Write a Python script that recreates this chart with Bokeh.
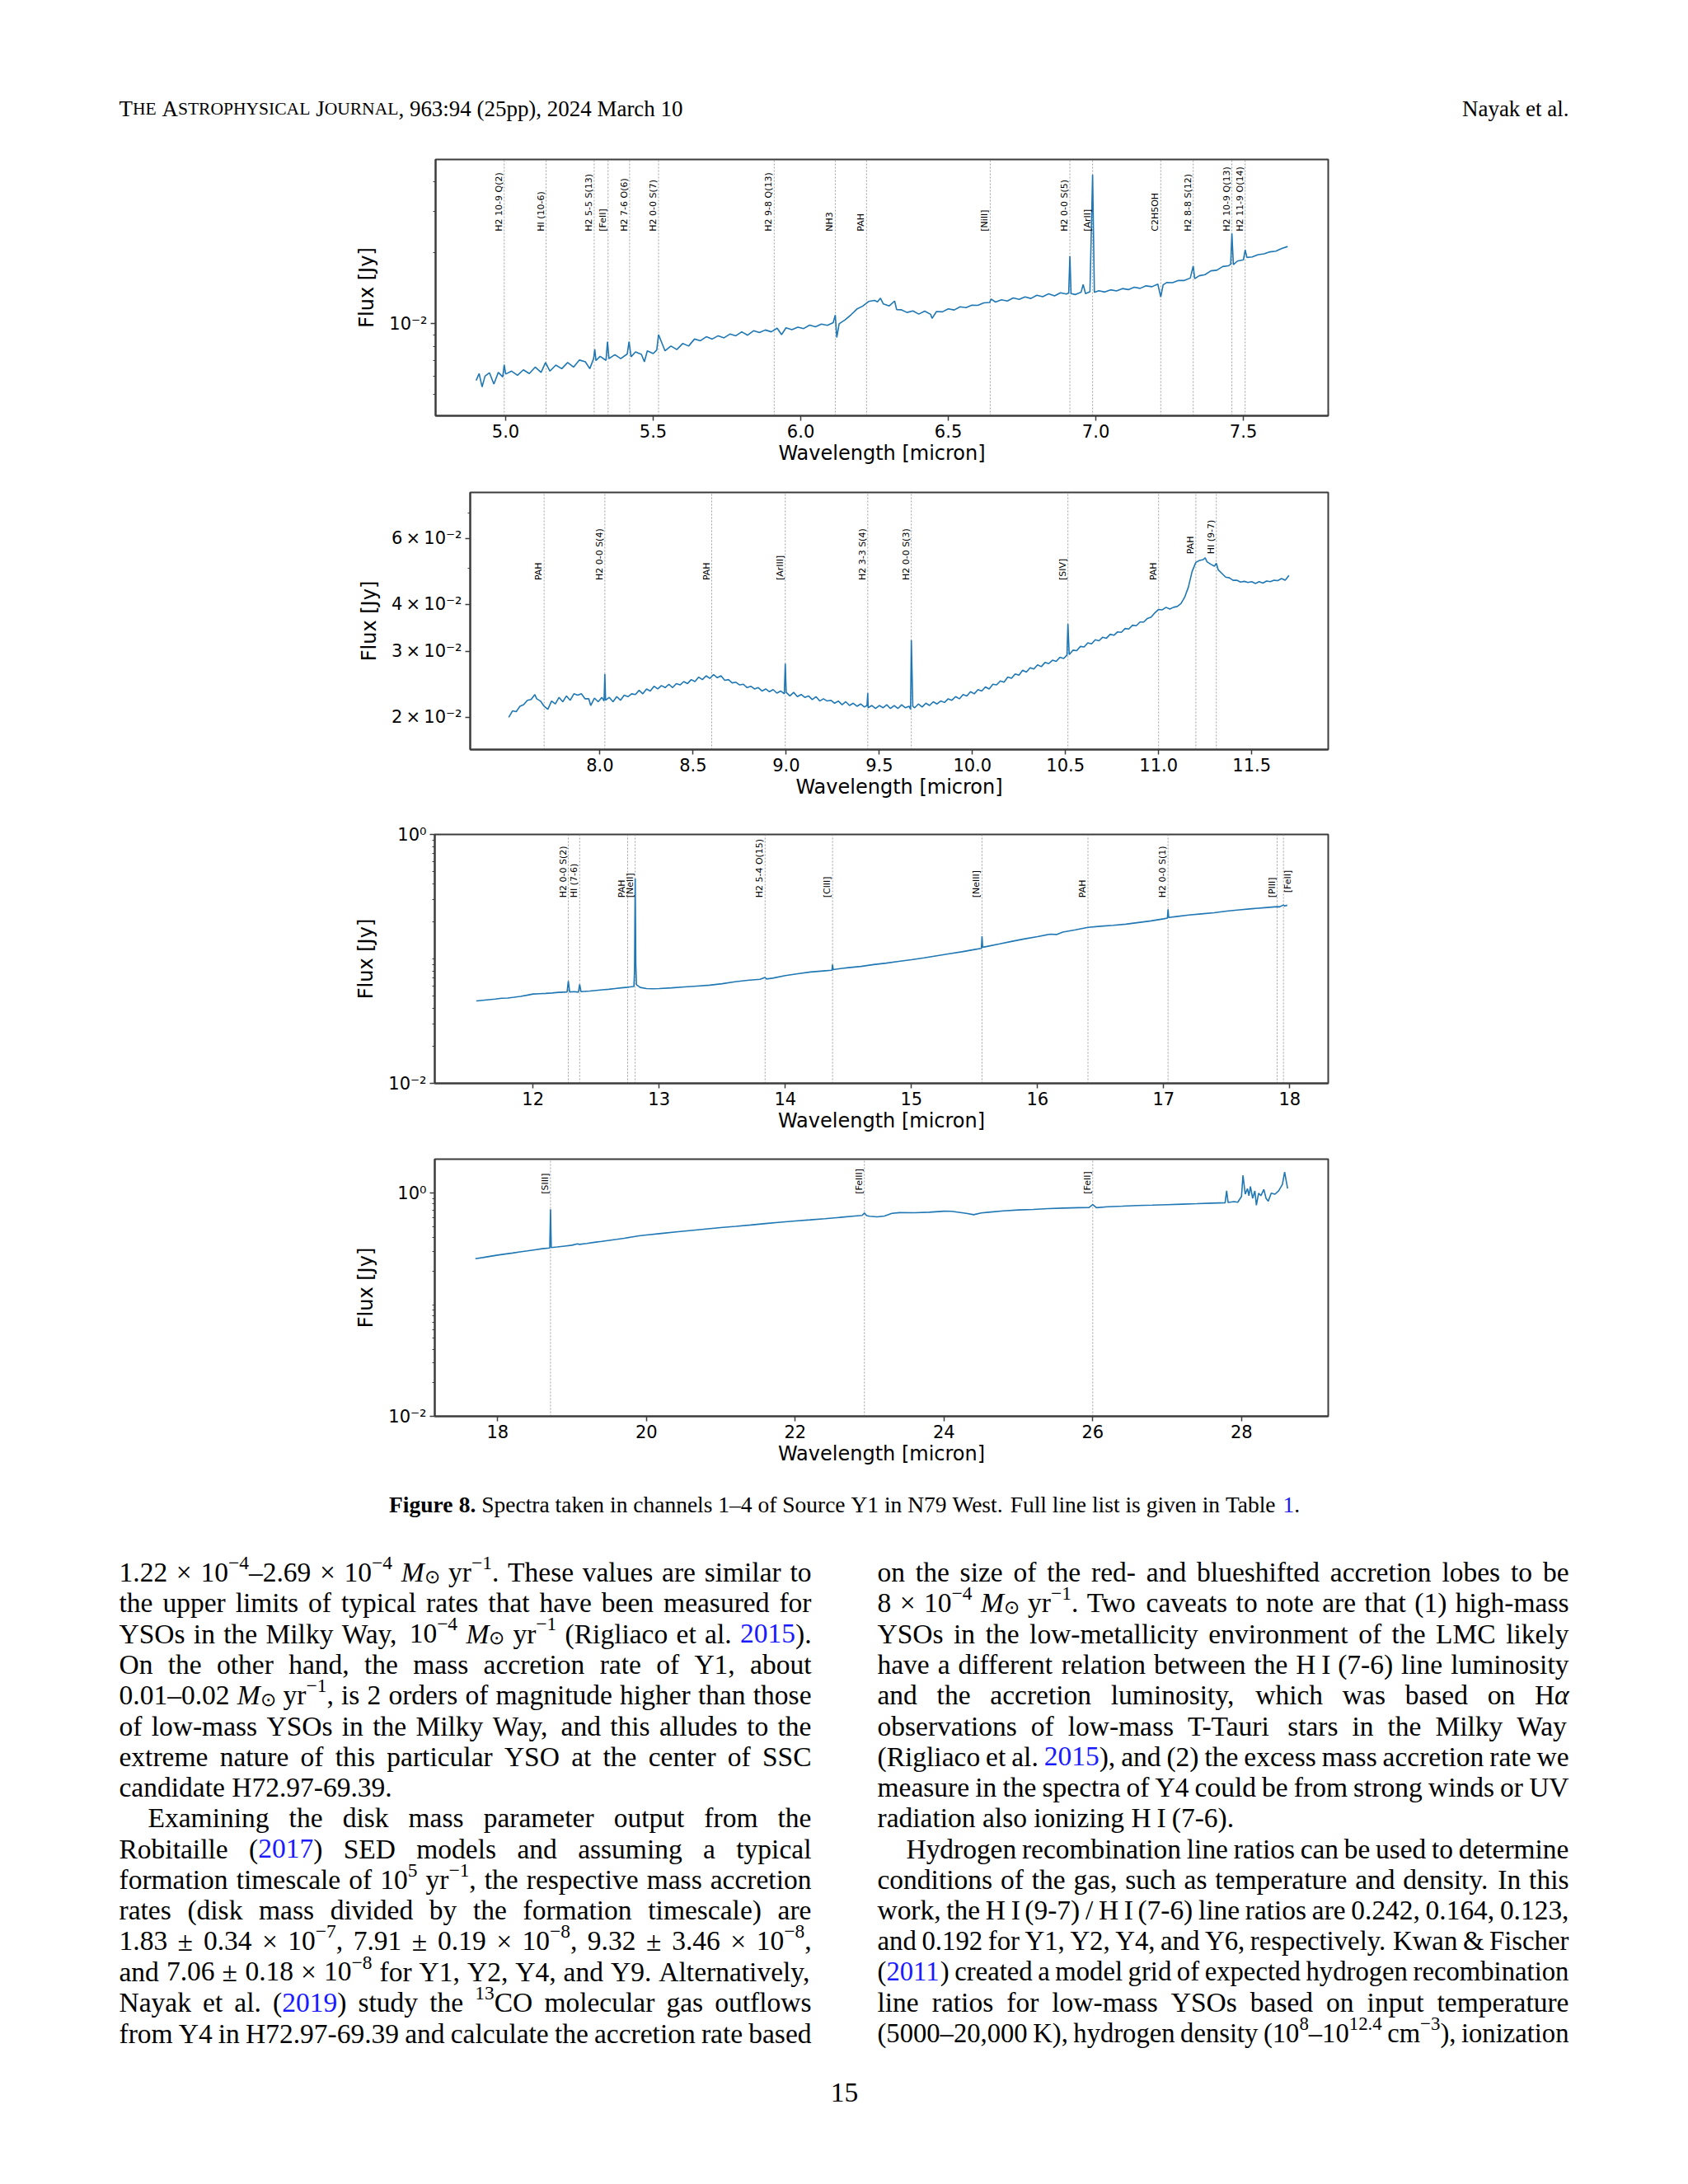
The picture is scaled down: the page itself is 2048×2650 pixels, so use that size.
import math
from bokeh.plotting import figure
from bokeh.models import Range1d, FixedTicker, ColumnDataSource
from bokeh.layouts import column
from bokeh.embed import file_html
from bokeh.resources import INLINE
from bokeh.core.properties import value

# ------------------------------------------------------------------
# Channel 1 spectrum (wavelength in micron, flux in Jy)
# ------------------------------------------------------------------
ch1_wl = [
    4.900, 4.910, 4.920, 4.930, 4.945, 4.960, 4.975, 4.990, 4.995, 5.000,
    5.020, 5.040, 5.060, 5.080, 5.100, 5.120, 5.135, 5.150, 5.170, 5.190,
    5.210, 5.230, 5.250, 5.270, 5.285, 5.298, 5.302, 5.306, 5.320, 5.340,
    5.345, 5.350, 5.370, 5.390, 5.412, 5.418, 5.425, 5.440, 5.460, 5.470,
    5.480, 5.500, 5.512, 5.518, 5.540, 5.560, 5.580, 5.600, 5.620, 5.640,
    5.660, 5.680, 5.700, 5.720, 5.740, 5.760, 5.780, 5.800, 5.820, 5.840,
    5.860, 5.880, 5.900, 5.920, 5.935, 5.950, 5.970, 5.990, 6.010, 6.030,
    6.050, 6.070, 6.090, 6.110, 6.117, 6.122, 6.130, 6.150, 6.170, 6.190,
    6.210, 6.230, 6.250, 6.260, 6.270, 6.280, 6.300, 6.318, 6.325, 6.340,
    6.360, 6.380, 6.400, 6.420, 6.440, 6.445, 6.460, 6.480, 6.500, 6.520,
    6.540, 6.560, 6.580, 6.600, 6.620, 6.640, 6.645, 6.660, 6.680, 6.700,
    6.720, 6.740, 6.760, 6.780, 6.800, 6.820, 6.840, 6.860, 6.880, 6.900,
    6.908, 6.912, 6.916, 6.930, 6.950, 6.957, 6.965, 6.980, 6.989, 6.995,
    7.010, 7.030, 7.050, 7.070, 7.090, 7.110, 7.130, 7.150, 7.170, 7.190,
    7.210, 7.220, 7.228, 7.240, 7.260, 7.280, 7.300, 7.320, 7.330, 7.335,
    7.350, 7.370, 7.390, 7.410, 7.430, 7.450, 7.457, 7.461, 7.466, 7.480,
    7.500, 7.506, 7.512, 7.530, 7.550, 7.570, 7.590, 7.610, 7.630, 7.650]
ch1_flux = [
    0.00575, 0.00615, 0.00540, 0.00600, 0.00620, 0.00555, 0.00622, 0.00595, 0.00670, 0.00612,
    0.00630, 0.00605, 0.00638, 0.00615, 0.00655, 0.00622, 0.00685, 0.00630, 0.00668, 0.00645,
    0.00685, 0.00655, 0.00702, 0.00690, 0.00645, 0.00712, 0.00780, 0.00698, 0.00728, 0.00700,
    0.00840, 0.00712, 0.00740, 0.00712, 0.00745, 0.00840, 0.00725, 0.00760, 0.00742, 0.00690,
    0.00768, 0.00748, 0.00775, 0.00900, 0.00768, 0.00805, 0.00778, 0.00825, 0.00805, 0.00862,
    0.00848, 0.00882, 0.00862, 0.00890, 0.00872, 0.00905, 0.00890, 0.00925, 0.00895, 0.00935,
    0.00918, 0.00942, 0.00925, 0.00958, 0.00900, 0.00962, 0.00945, 0.00968, 0.00955, 0.00988,
    0.00972, 0.00998, 0.00985, 0.01012, 0.01090, 0.00875, 0.01000, 0.01040, 0.01092, 0.01155,
    0.01190, 0.01245, 0.01258, 0.01240, 0.01285, 0.01215, 0.01192, 0.01250, 0.01150, 0.01148,
    0.01118, 0.01135, 0.01100, 0.01132, 0.01098, 0.01055, 0.01128, 0.01125, 0.01158, 0.01145,
    0.01182, 0.01172, 0.01200, 0.01198, 0.01228, 0.01232, 0.01275, 0.01238, 0.01265, 0.01250,
    0.01288, 0.01270, 0.01302, 0.01282, 0.01322, 0.01305, 0.01342, 0.01315, 0.01355, 0.01338,
    0.01352, 0.01940, 0.01345, 0.01332, 0.01362, 0.01470, 0.01345, 0.01368, 0.04300, 0.01360,
    0.01382, 0.01365, 0.01395, 0.01380, 0.01412, 0.01398, 0.01430, 0.01415, 0.01450, 0.01438,
    0.01475, 0.01300, 0.01465, 0.01498, 0.01495, 0.01530, 0.01528, 0.01565, 0.01760, 0.01555,
    0.01600, 0.01618, 0.01680, 0.01690, 0.01752, 0.01765, 0.01790, 0.02420, 0.01785, 0.01848,
    0.01870, 0.02060, 0.01915, 0.01925, 0.01968, 0.01982, 0.02022, 0.02035, 0.02090, 0.02130]
ch1_line_wl = [4.995, 5.137, 5.300, 5.347, 5.420, 5.518, 5.910, 6.117, 6.223, 6.642,
               6.912, 6.989, 7.220, 7.330, 7.461, 7.506]
ch1_line_labels = ["H2 10-9 Q(2)", "HI (10-6)", "H2 5-5 S(13)", "[FeII]", "H2 7-6 O(6)",
                   "H2 0-0 S(7)", "H2 9-8 Q(13)", "NH3", "PAH", "[NiII]", "H2 0-0 S(5)",
                   "[ArII]", "C2H5OH", "H2 8-8 S(12)", "H2 10-9 Q(13)", "H2 11-9 O(14)"]
ch1_label_wl = ch1_line_wl
ch1_label_flux = [0.0247] * len(ch1_line_wl)
ch1_xticks = [5.0, 5.5, 6.0, 6.5, 7.0, 7.5]
ch1_xtick_labels = ["5.0", "5.5", "6.0", "6.5", "7.0", "7.5"]
ch1_yticks = [0.01]
ch1_ytick_labels = ["10\u207b\u00b2"]
ch1_yminor = [0.005, 0.006, 0.007, 0.008, 0.009, 0.02, 0.03, 0.04]

# ------------------------------------------------------------------
# Channel 2 spectrum
# ------------------------------------------------------------------
ch2_wl = [
    7.51, 7.53, 7.55, 7.57, 7.59, 7.61, 7.63, 7.65, 7.66, 7.68,
    7.70, 7.72, 7.74, 7.76, 7.78, 7.80, 7.82, 7.84, 7.86, 7.88,
    7.90, 7.92, 7.94, 7.95, 7.97, 7.99, 8.01, 8.022, 8.026, 8.03,
    8.05, 8.07, 8.09, 8.11, 8.13, 8.15, 8.17, 8.19, 8.21, 8.23,
    8.25, 8.27, 8.29, 8.31, 8.33, 8.35, 8.37, 8.39, 8.41, 8.43,
    8.45, 8.47, 8.49, 8.51, 8.53, 8.55, 8.57, 8.59, 8.61, 8.63,
    8.65, 8.67, 8.69, 8.71, 8.73, 8.75, 8.77, 8.79, 8.81, 8.83,
    8.85, 8.87, 8.89, 8.91, 8.93, 8.95, 8.97, 8.99, 8.995, 9.00,
    9.02, 9.04, 9.06, 9.08, 9.10, 9.12, 9.14, 9.16, 9.18, 9.20,
    9.22, 9.24, 9.26, 9.28, 9.30, 9.32, 9.34, 9.36, 9.38, 9.40,
    9.42, 9.434, 9.438, 9.44, 9.46, 9.48, 9.50, 9.52, 9.54, 9.56,
    9.58, 9.60, 9.62, 9.64, 9.66, 9.668, 9.672, 9.68, 9.69, 9.71,
    9.73, 9.75, 9.77, 9.79, 9.81, 9.83, 9.85, 9.87, 9.89, 9.91,
    9.93, 9.95, 9.97, 9.99, 10.01, 10.03, 10.05, 10.07, 10.09, 10.11,
    10.13, 10.15, 10.17, 10.19, 10.21, 10.23, 10.25, 10.27, 10.29, 10.31,
    10.33, 10.35, 10.37, 10.39, 10.41, 10.43, 10.45, 10.47, 10.49, 10.508,
    10.513, 10.52, 10.54, 10.56, 10.58, 10.60, 10.62, 10.64, 10.66, 10.68,
    10.70, 10.72, 10.74, 10.76, 10.78, 10.80, 10.82, 10.84, 10.86, 10.88,
    10.90, 10.92, 10.94, 10.96, 10.98, 11.00, 11.02, 11.04, 11.06, 11.08,
    11.10, 11.12, 11.14, 11.16, 11.18, 11.20, 11.22, 11.24, 11.25, 11.26,
    11.28, 11.30, 11.31, 11.32, 11.34, 11.36, 11.38, 11.40, 11.42, 11.44,
    11.46, 11.48, 11.50, 11.52, 11.54, 11.56, 11.58, 11.60, 11.62, 11.64,
    11.66, 11.68, 11.70]
ch2_flux = [
    0.0200, 0.0208, 0.0207, 0.0214, 0.0216, 0.0222, 0.0223, 0.0230, 0.0224, 0.0221,
    0.0214, 0.0210, 0.0221, 0.0217, 0.0226, 0.0220, 0.0228, 0.0222, 0.0231, 0.0229,
    0.0231, 0.0224, 0.0224, 0.0215, 0.0225, 0.0220, 0.0226, 0.0221, 0.0261, 0.0222,
    0.0226, 0.0220, 0.0227, 0.0222, 0.0229, 0.0227, 0.0231, 0.0230, 0.0236, 0.0231,
    0.0238, 0.0235, 0.0242, 0.0238, 0.0243, 0.0240, 0.0245, 0.0240, 0.0246, 0.0244,
    0.0249, 0.0246, 0.0252, 0.0249, 0.0256, 0.0252, 0.0258, 0.0254, 0.0260, 0.0255,
    0.0258, 0.0251, 0.0252, 0.0247, 0.0248, 0.0244, 0.0245, 0.0240, 0.0242, 0.0238,
    0.0240, 0.0235, 0.0238, 0.0234, 0.0237, 0.0232, 0.0235, 0.0231, 0.0278, 0.0233,
    0.0228, 0.0233, 0.0227, 0.0230, 0.0226, 0.0228, 0.0223, 0.0227, 0.0221, 0.0224,
    0.0221, 0.0222, 0.0218, 0.0221, 0.0216, 0.0220, 0.0215, 0.0218, 0.0214, 0.0217,
    0.0213, 0.0215, 0.0232, 0.0212, 0.0215, 0.0211, 0.0215, 0.0212, 0.0216, 0.0211,
    0.0215, 0.0211, 0.0216, 0.0212, 0.0214, 0.0210, 0.0321, 0.0214, 0.0212, 0.0217,
    0.0213, 0.0218, 0.0215, 0.0220, 0.0217, 0.0221, 0.0219, 0.0224, 0.0222, 0.0227,
    0.0224, 0.0230, 0.0228, 0.0234, 0.0231, 0.0237, 0.0235, 0.0241, 0.0238, 0.0245,
    0.0244, 0.0250, 0.0248, 0.0256, 0.0254, 0.0261, 0.0259, 0.0267, 0.0264, 0.0271,
    0.0269, 0.0276, 0.0273, 0.0280, 0.0278, 0.0284, 0.0282, 0.0289, 0.0287, 0.0293,
    0.0355, 0.0294, 0.0302, 0.0301, 0.0309, 0.0308, 0.0316, 0.0314, 0.0322, 0.0320,
    0.0327, 0.0325, 0.0333, 0.0331, 0.0338, 0.0337, 0.0345, 0.0344, 0.0352, 0.0351,
    0.0359, 0.0359, 0.0367, 0.0370, 0.0380, 0.0388, 0.0387, 0.0393, 0.0389, 0.0393,
    0.0395, 0.0402, 0.0418, 0.0445, 0.0490, 0.0518, 0.0524, 0.0527, 0.0533, 0.0520,
    0.0512, 0.0506, 0.0515, 0.0495, 0.0484, 0.0473, 0.0471, 0.0464, 0.0464, 0.0459,
    0.0461, 0.0458, 0.0460, 0.0455, 0.0460, 0.0456, 0.0462, 0.0460, 0.0464, 0.0463,
    0.0469, 0.0464, 0.0478]
ch2_line_wl = [7.70, 8.026, 8.60, 8.995, 9.438, 9.672, 10.513, 11.00, 11.20, 11.31]
ch2_line_labels = ["PAH", "H2 0-0 S(4)", "PAH", "[ArIII]", "H2 3-3 S(4)", "H2 0-0 S(3)",
                   "[SIV]", "PAH", "PAH", "HI (9-7)"]
ch2_label_wl = ch2_line_wl
ch2_label_flux = [0.0464, 0.0464, 0.0464, 0.0464, 0.0464, 0.0464, 0.0464, 0.0464, 0.0545, 0.0545]
ch2_xticks = [8.0, 8.5, 9.0, 9.5, 10.0, 10.5, 11.0, 11.5]
ch2_xtick_labels = ["8.0", "8.5", "9.0", "9.5", "10.0", "10.5", "11.0", "11.5"]
ch2_yticks = [0.02, 0.03, 0.04, 0.06]
ch2_ytick_labels = ["2\u2009\u00d7\u200910\u207b\u00b2", "3\u2009\u00d7\u200910\u207b\u00b2",
                    "4\u2009\u00d7\u200910\u207b\u00b2", "6\u2009\u00d7\u200910\u207b\u00b2"]
ch2_yminor = [0.05, 0.07]

# ------------------------------------------------------------------
# Channel 3 spectrum
# ------------------------------------------------------------------
ch3_wl = [
    11.55, 11.60, 11.65, 11.70, 11.75, 11.80, 11.85, 11.90, 11.95, 12.00,
    12.05, 12.10, 12.15, 12.20, 12.27, 12.28, 12.29, 12.33, 12.36, 12.37,
    12.38, 12.45, 12.50, 12.55, 12.60, 12.65, 12.70, 12.75, 12.80, 12.805,
    12.81, 12.815, 12.82, 12.85, 12.90, 12.95, 13.00, 13.10, 13.20, 13.30,
    13.40, 13.50, 13.60, 13.70, 13.80, 13.84, 13.85, 13.90, 14.00, 14.10,
    14.20, 14.30, 14.37, 14.375, 14.38, 14.45, 14.50, 14.60, 14.70, 14.80,
    14.90, 15.00, 15.10, 15.20, 15.30, 15.40, 15.50, 15.555, 15.56, 15.565,
    15.60, 15.70, 15.80, 15.90, 16.00, 16.10, 16.15, 16.20, 16.30, 16.40,
    16.50, 16.60, 16.70, 16.80, 16.90, 17.00, 17.03, 17.035, 17.04, 17.10,
    17.20, 17.30, 17.40, 17.50, 17.60, 17.70, 17.80, 17.90, 17.92, 17.95,
    17.96, 17.98]
ch3_flux = [
    0.0460, 0.0465, 0.0470, 0.0475, 0.0483, 0.0485, 0.0492, 0.0500, 0.0510, 0.0522,
    0.0525, 0.0528, 0.0532, 0.0538, 0.0542, 0.0664, 0.0542, 0.0545, 0.0540, 0.0625,
    0.0546, 0.0552, 0.0558, 0.0564, 0.0570, 0.0578, 0.0585, 0.0592, 0.0600, 0.0800,
    0.4430, 0.0900, 0.0620, 0.0590, 0.0578, 0.0575, 0.0578, 0.0585, 0.0595, 0.0605,
    0.0615, 0.0632, 0.0655, 0.0672, 0.0685, 0.0710, 0.0690, 0.0700, 0.0735, 0.0760,
    0.0785, 0.0800, 0.0810, 0.0900, 0.0820, 0.0840, 0.0850, 0.0870, 0.0900, 0.0925,
    0.0955, 0.0985, 0.1020, 0.1060, 0.1100, 0.1140, 0.1190, 0.1215, 0.1520, 0.1240,
    0.1260, 0.1320, 0.1385, 0.1450, 0.1510, 0.1580, 0.1570, 0.1640, 0.1710, 0.1790,
    0.1830, 0.1860, 0.1900, 0.1960, 0.2020, 0.2100, 0.2130, 0.2500, 0.2150, 0.2190,
    0.2250, 0.2300, 0.2350, 0.2420, 0.2480, 0.2530, 0.2580, 0.2630, 0.2620, 0.2710,
    0.2660, 0.2700]
ch3_line_wl = [12.28, 12.37, 12.75, 12.81, 13.84, 14.375, 15.56, 16.40, 17.035, 17.90, 17.95]
ch3_line_labels = ["H2 0-0 S(2)", "HI (7-6)", "PAH", "[NeII]", "H2 5-4 O(15)", "[ClII]",
                   "[NeIII]", "PAH", "H2 0-0 S(1)", "[PIII]", "[FeII]"]
ch3_label_wl = [12.28, 12.37, 12.75, 12.81, 13.84, 14.375, 15.56, 16.40, 17.035, 17.90, 18.03]
ch3_label_flux = [0.31, 0.31, 0.31, 0.31, 0.31, 0.31, 0.31, 0.31, 0.31, 0.31, 0.34]
ch3_xticks = [12, 13, 14, 15, 16, 17, 18]
ch3_xtick_labels = ["12", "13", "14", "15", "16", "17", "18"]
ch3_yticks = [0.01, 1.0]
ch3_ytick_labels = ["10\u207b\u00b2", "10\u2070"]
ch3_yminor = [0.02, 0.03, 0.04, 0.05, 0.06, 0.07, 0.08, 0.09,
              0.1, 0.2, 0.3, 0.4, 0.5, 0.6, 0.7, 0.8, 0.9]

# ------------------------------------------------------------------
# Channel 4 spectrum
# ------------------------------------------------------------------
ch4_wl = [
    17.70, 17.80, 17.90, 18.00, 18.10, 18.20, 18.30, 18.40, 18.50, 18.60,
    18.70, 18.71, 18.72, 18.80, 18.90, 19.00, 19.07, 19.10, 19.20, 19.30,
    19.40, 19.50, 19.60, 19.70, 19.80, 19.90, 20.00, 20.20, 20.40, 20.60,
    20.80, 21.00, 21.20, 21.40, 21.60, 21.80, 22.00, 22.20, 22.40, 22.60,
    22.80, 22.90, 22.93, 22.96, 23.00, 23.10, 23.20, 23.30, 23.40, 23.60,
    23.80, 24.00, 24.10, 24.20, 24.30, 24.40, 24.50, 24.60, 24.80, 25.00,
    25.20, 25.40, 25.60, 25.80, 25.95, 26.00, 26.05, 26.20, 26.40, 26.60,
    26.80, 27.00, 27.20, 27.40, 27.60, 27.78, 27.80, 27.82, 27.90, 27.95,
    28.00, 28.02, 28.05, 28.08, 28.10, 28.12, 28.15, 28.18, 28.20, 28.23,
    28.26, 28.30, 28.33, 28.36, 28.40, 28.45, 28.50, 28.55, 28.58, 28.60,
    28.62]
ch4_flux = [
    0.259, 0.265, 0.272, 0.279, 0.285, 0.291, 0.298, 0.304, 0.311, 0.318,
    0.323, 0.719, 0.326, 0.330, 0.336, 0.342, 0.352, 0.348, 0.355, 0.363,
    0.370, 0.378, 0.386, 0.395, 0.405, 0.415, 0.422, 0.436, 0.450, 0.464,
    0.478, 0.492, 0.505, 0.519, 0.535, 0.550, 0.564, 0.577, 0.591, 0.607,
    0.624, 0.632, 0.665, 0.630, 0.622, 0.614, 0.625, 0.660, 0.670, 0.668,
    0.676, 0.690, 0.688, 0.675, 0.660, 0.642, 0.665, 0.676, 0.695, 0.708,
    0.716, 0.728, 0.736, 0.742, 0.745, 0.790, 0.742, 0.756, 0.765, 0.775,
    0.782, 0.790, 0.798, 0.805, 0.815, 0.822, 1.050, 0.826, 0.840, 0.830,
    0.935, 1.450, 0.980, 1.100, 0.950, 1.150, 0.900, 1.050, 0.780, 1.000,
    0.950, 1.080, 0.900, 0.850, 1.000, 0.980, 1.050, 1.200, 1.550, 1.300,
    1.100]
ch4_line_wl = [18.71, 22.93, 26.00]
ch4_line_labels = ["[SIII]", "[FeIII]", "[FeII]"]
ch4_label_wl = ch4_line_wl
ch4_label_flux = [0.983, 0.983, 0.983]
ch4_xticks = [18, 20, 22, 24, 26, 28]
ch4_xtick_labels = ["18", "20", "22", "24", "26", "28"]
ch4_yticks = [0.01, 1.0]
ch4_ytick_labels = ["10\u207b\u00b2", "10\u2070"]
ch4_yminor = [0.02, 0.03, 0.04, 0.05, 0.06, 0.07, 0.08, 0.09,
              0.1, 0.2, 0.3, 0.4, 0.5, 0.6, 0.7, 0.8, 0.9]

# ------------------------------------------------------------------
# Page texts
# ------------------------------------------------------------------
HEADER_LEFT = "T<he> A<strophysical> J<ournal>, 963:94 (25pp), 2024 March 10"
HEADER_RIGHT = "Nayak et al."
CAPTION = "#Figure 8.# Spectra taken in channels 1\u20134 of Source Y1 in N79 West. Full line list is given in Table [1]."
PAGE_NUMBER = "15"
BODY_LEFT = [
    "1.22 \u00d7 10^{\u22124}\u20132.69 \u00d7 10^{\u22124} *M*_{\u2299} yr^{\u22121}. These values are similar to",
    "the upper limits of typical rates that have been measured for",
    "YSOs in the Milky Way, 10^{\u22124} *M*_{\u2299} yr^{\u22121} (Rigliaco et al. [2015]).",
    "On the other hand, the mass accretion rate of Y1, about",
    "0.01\u20130.02 *M*_{\u2299} yr^{\u22121}, is 2 orders of magnitude higher than those",
    "of low-mass YSOs in the Milky Way, and this alludes to the",
    "extreme nature of this particular YSO at the center of SSC",
    "candidate H72.97-69.39.",
    "Examining the disk mass parameter output from the",
    "Robitaille ([2017]) SED models and assuming a typical",
    "formation timescale of 10^{5} yr^{\u22121}, the respective mass accretion",
    "rates (disk mass divided by the formation timescale) are",
    "1.83 \u00b1 0.34 \u00d7 10^{\u22127}, 7.91 \u00b1 0.19 \u00d7 10^{\u22128}, 9.32 \u00b1 3.46 \u00d7 10^{\u22128},",
    "and 7.06 \u00b1 0.18 \u00d7 10^{\u22128} for Y1, Y2, Y4, and Y9. Alternatively,",
    "Nayak et al. ([2019]) study the ^{13}CO molecular gas outflows",
    "from Y4 in H72.97-69.39 and calculate the accretion rate based",
]
BODY_RIGHT = [
    "on the size of the red- and blueshifted accretion lobes to be",
    "8 \u00d7 10^{\u22124} *M*_{\u2299} yr^{\u22121}. Two caveats to note are that (1) high-mass",
    "YSOs in the low-metallicity environment of the LMC likely",
    "have a different relation between the H\u2009I (7-6) line luminosity",
    "and the accretion luminosity, which was based on H*\u03b1*",
    "observations of low-mass T-Tauri stars in the Milky Way",
    "(Rigliaco et al. [2015]), and (2) the excess mass accretion rate we",
    "measure in the spectra of Y4 could be from strong winds or UV",
    "radiation also ionizing H\u2009I (7-6).",
    "Hydrogen recombination line ratios can be used to determine",
    "conditions of the gas, such as temperature and density. In this",
    "work, the H\u2009I (9-7) / H\u2009I (7-6) line ratios are 0.242, 0.164, 0.123,",
    "and 0.192 for Y1, Y2, Y4, and Y6, respectively. Kwan & Fischer",
    "([2011]) created a model grid of expected hydrogen recombination",
    "line ratios for low-mass YSOs based on input temperature",
    "(5000\u201320,000 K), hydrogen density (10^{8}\u201310^{12.4} cm^{\u22123}), ionization",
]
PARA_END = {("L", 7), ("R", 8)}
PARA_START = {("L", 8), ("R", 9)}

# ------------------------------------------------------------------
# Styling
# ------------------------------------------------------------------
SPEC_COLOR = "#1f77b4"
FRAME = "#3c3c3c"
LINK = "#1a1aff"
PAGE_W = 2048

# Times metrics (1/1000 em) for laying out the page text
_TR = {" ": 250, "!": 333, "&": 778, "'": 333, "(": 333, ")": 333, "+": 564, ",": 250,
       "-": 333, ".": 250, "/": 278, ":": 278, ";": 278, "[": 333, "]": 333,
       "\u2013": 500, "\u2014": 1000, "\u00d7": 564, "\u00b1": 564, "\u2212": 564,
       "\u2299": 800, "\u03b1": 520, "\u2009": 167}
for _c in "0123456789":
    _TR[_c] = 500
for _c, _w in zip("ABCDEFGHIJKLMNOPQRSTUVWXYZ",
                  [722, 667, 667, 722, 611, 556, 722, 722, 333, 389, 722, 611, 889,
                   722, 722, 556, 722, 667, 556, 611, 722, 722, 944, 722, 722, 611]):
    _TR[_c] = _w
for _c, _w in zip("abcdefghijklmnopqrstuvwxyz",
                  [444, 500, 444, 500, 444, 333, 500, 500, 278, 278, 500, 278, 778,
                   500, 500, 500, 500, 333, 389, 278, 500, 500, 722, 500, 500, 444]):
    _TR[_c] = _w
_TI = {"M": 833, "\u03b1": 520}
_TB = {"F": 611, "i": 278, "g": 500, "u": 556, "r": 444, "e": 444, "8": 500, ".": 250}


def parse(s):
    toks = []
    it = bd = sc = lk = False
    scr = None
    i = 0
    while i < len(s):
        c = s[i]
        if c == "*":
            it = not it
        elif c == "#":
            bd = not bd
        elif c == "<":
            sc = True
        elif c == ">":
            sc = False
        elif c == "[":
            lk = True
        elif c == "]":
            lk = False
        elif c in "^_" and i + 1 < len(s) and s[i + 1] == "{":
            scr = "sup" if c == "^" else "sub"
            i += 1
        elif c == "}" and scr:
            scr = None
        else:
            toks.append((c.upper() if sc else c, (it, bd, sc, lk, scr)))
        i += 1
    return toks


def tok_w(ch, a, size):
    it, bd, sc, lk, scr = a
    if bd:
        w = _TB.get(ch, _TR.get(ch, 500))
    elif it:
        w = _TI.get(ch, _TR.get(ch, 500))
    else:
        w = _TR.get(ch, 500)
    f = size * (0.7 if scr else 1.0) * (0.8 if sc else 1.0)
    return w / 1000.0 * f


def words_of(markup):
    words, cur = [], []
    for ch, a in parse(markup):
        if ch == " ":
            if cur:
                words.append(cur)
                cur = []
        else:
            cur.append((ch, a))
    if cur:
        words.append(cur)
    return words


def natural_width(markup, size):
    ws = words_of(markup)
    return sum(tok_w(c, a, size) for w in ws for c, a in w) + 0.25 * size * (len(ws) - 1)


def set_line(src, markup, x0, baseline, size, width=None, align="left"):
    ws = words_of(markup)
    if align == "justify" and len(ws) > 1:
        # shrink the type a little when the words do not fit with a normal space
        raw = sum(tok_w(c, a, size) for w in ws for c, a in w)
        need = raw + 0.2 * size * (len(ws) - 1)
        if need > width:
            size = size * width / need
    wl = [sum(tok_w(c, a, size) for c, a in w) for w in ws]
    gap = 0.25 * size
    nat = sum(wl) + gap * (len(ws) - 1)
    if align == "justify" and len(ws) > 1:
        gap = (width - sum(wl)) / (len(ws) - 1)
    elif align == "center":
        x0 = x0 - nat / 2.0
    elif align == "right":
        x0 = x0 - nat
    x = x0
    for w, wlen in zip(ws, wl):
        runs = []
        for ch, a in w:
            if runs and runs[-1][1] == a:
                runs[-1][0] += ch
            else:
                runs.append([ch, a])
        rx = x
        for text, a in runs:
            it, bd, sc, lk, scr = a
            fs = size * (0.7 if scr else 1.0) * (0.8 if sc else 1.0)
            dy = -0.34 * size if scr == "sup" else (0.15 * size if scr == "sub" else 0.0)
            src["x"].append(rx)
            src["y"].append(baseline + dy)
            src["text"].append(text)
            src["size"].append("%.2fpx" % fs)
            src["style"].append("bold" if bd else ("italic" if it else "normal"))
            src["color"].append(LINK if lk else "#000000")
            rx += sum(tok_w(c, a, size) for c in text)
        x += wlen + gap


def new_src():
    return {"x": [], "y": [], "text": [], "size": [], "style": [], "color": []}


def page_figure(y0, y1, src):
    f = figure(width=PAGE_W, height=int(y1 - y0), x_range=Range1d(0, PAGE_W),
               y_range=Range1d(y1, y0), x_axis_type=None, y_axis_type=None,
               output_backend="svg", toolbar_location=None, min_border=0)
    f.frame_align = False
    f.outline_line_color = None
    f.background_fill_color = "white"
    f.border_fill_color = "white"
    f.text(x="x", y="y", text="text", text_font_size="size", text_font_style="style",
           text_color="color", text_font=value("Liberation Serif"),
           text_align="left", text_baseline="alphabetic", source=ColumnDataSource(src))
    return f


def make_panel(wl, flux, line_wl, line_labels, label_wl, label_flux, xr, yr,
               xticks, xlabels, yticks, ylabels, yminor, left, top, bottom, height):
    p = figure(width=PAGE_W, height=height, x_range=Range1d(*xr), y_range=Range1d(*yr),
               y_axis_type="log", output_backend="svg", toolbar_location=None,
               min_border_left=left, min_border_right=437,
               min_border_top=top, min_border_bottom=bottom)
    p.frame_align = False
    p.xgrid.visible = False
    p.ygrid.visible = False
    p.background_fill_color = "white"
    p.border_fill_color = "white"
    p.outline_line_color = FRAME
    p.outline_line_width = 2
    n = len(line_wl)
    p.segment(x0=line_wl, y0=[yr[0]] * n, x1=line_wl, y1=[yr[1]] * n,
              line_color="#8a8a8a", line_width=1, line_dash="2 2", line_alpha=0.8)
    p.line(wl, flux, line_color=SPEC_COLOR, line_width=1.6)
    p.text(x=label_wl, y=label_flux, text=line_labels, angle=math.pi / 2,
           text_align="left", text_baseline="bottom",
           text_font=value("DejaVu Sans"), text_font_size=value("11px"),
           text_color="#000000")
    xa = p.xaxis[0]
    ya = p.yaxis[0]
    xa.ticker = FixedTicker(ticks=xticks, minor_ticks=[])
    xa.major_label_overrides = {t: l for t, l in zip(xticks, xlabels)}
    ya.ticker = FixedTicker(ticks=yticks, minor_ticks=yminor)
    ya.major_label_overrides = {t: l for t, l in zip(yticks, ylabels)}
    for ax in (xa, ya):
        ax.axis_line_color = FRAME
        ax.axis_line_width = 2
        ax.major_tick_line_color = FRAME
        ax.major_tick_line_width = 1.5
        ax.minor_tick_line_color = FRAME
        ax.minor_tick_line_width = 1.2
        ax.major_tick_in = 0
        ax.major_tick_out = 6
        ax.minor_tick_in = 0
        ax.minor_tick_out = 3
        ax.major_label_text_font = "DejaVu Sans"
        ax.major_label_text_font_size = "21px"
        ax.major_label_text_color = "#000000"
        ax.axis_label_text_font = "DejaVu Sans"
        ax.axis_label_text_font_size = "24px"
        ax.axis_label_text_font_style = "normal"
        ax.axis_label_text_color = "#000000"
    xa.axis_label = "Wavelength [micron]"
    ya.axis_label = "Flux [Jy]"
    xa.major_label_standoff = 4
    xa.axis_label_standoff = 2
    ya.major_label_standoff = 4
    ya.axis_label_standoff = 10
    return p


# ------------------------------------------------------------------
# Build page (the page is drawn from its top-left corner)
# ------------------------------------------------------------------
hsrc = new_src()
hsize = 684.0 / natural_width(HEADER_LEFT, 1.0)
set_line(hsrc, HEADER_LEFT, 144, 131, hsize)
set_line(hsrc, HEADER_RIGHT, 1903, 131, hsize, align="right")
header = page_figure(0, 180, hsrc)

p1 = make_panel(ch1_wl, ch1_flux, ch1_line_wl, ch1_line_labels, ch1_label_wl, ch1_label_flux,
                (4.7625, 7.7875), (0.00407, 0.0499), ch1_xticks, ch1_xtick_labels,
                ch1_yticks, ch1_ytick_labels, ch1_yminor, 528, 13, 76, 400)
p2 = make_panel(ch2_wl, ch2_flux, ch2_line_wl, ch2_line_labels, ch2_label_wl, ch2_label_flux,
                (7.303, 11.911), (0.0164, 0.0796), ch2_xticks, ch2_xtick_labels,
                ch2_yticks, ch2_ytick_labels, ch2_yminor, 570, 17, 66, 395)
p3 = make_panel(ch3_wl, ch3_flux, ch3_line_wl, ch3_line_labels, ch3_label_wl, ch3_label_flux,
                (11.221, 18.305), (0.01, 1.0), ch3_xticks, ch3_xtick_labels,
                ch3_yticks, ch3_ytick_labels, ch3_yminor, 527, 37, 64, 403)
p4 = make_panel(ch4_wl, ch4_flux, ch4_line_wl, ch4_line_labels, ch4_label_wl, ch4_label_flux,
                (17.154, 29.166), (0.01, 2.02), ch4_xticks, ch4_xtick_labels,
                ch4_yticks, ch4_ytick_labels, ch4_yminor, 527, 28, 72, 412)

bsrc = new_src()
csize = 1105.0 / natural_width(CAPTION, 1.0)
set_line(bsrc, CAPTION, 1024, 1825, csize, align="center")
BODY_SIZE = 33.5
LEAD = 37.3
for col, lines, x0, width in (("L", BODY_LEFT, 144, 840), ("R", BODY_RIGHT, 1064, 839)):
    for i, ln in enumerate(lines):
        base = 1907 + i * LEAD
        indent = 35 if (col, i) in PARA_START else 0
        if (col, i) in PARA_END:
            set_line(bsrc, ln, x0 + indent, base, BODY_SIZE)
        else:
            set_line(bsrc, ln, x0 + indent, base, BODY_SIZE, width=width - indent, align="justify")
set_line(bsrc, PAGE_NUMBER, 1024, 2538, BODY_SIZE, align="center")
bottom = page_figure(1790, 2650, bsrc)

layout = column(header, p1, p2, p3, p4, bottom, spacing=0)
open("out.html", "w").write(file_html(layout, INLINE))
